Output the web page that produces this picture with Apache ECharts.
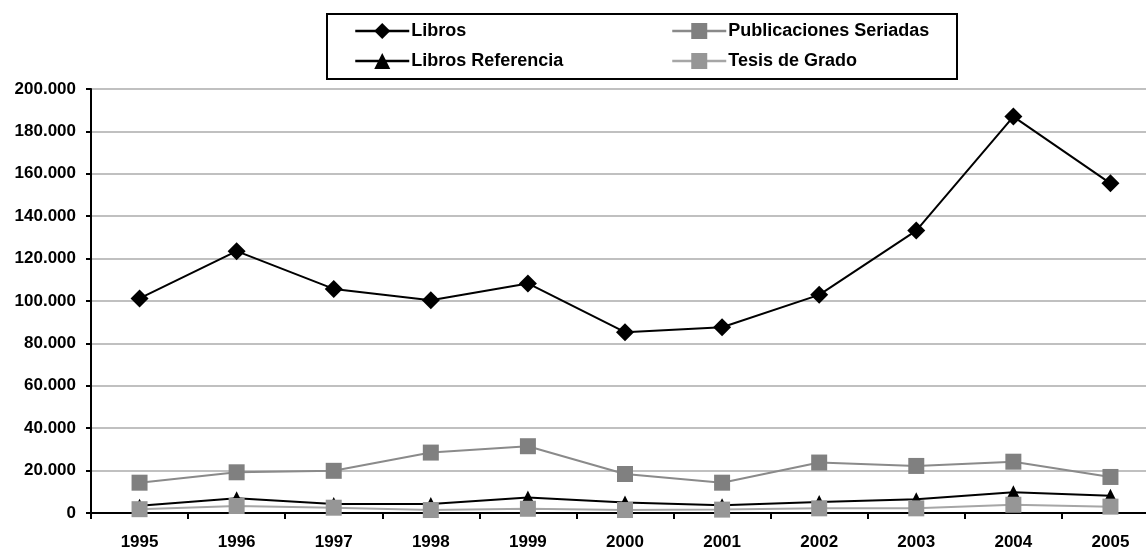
<!DOCTYPE html>
<html>
<head>
<meta charset="utf-8">
<script src="https://cdn.jsdelivr.net/npm/echarts@6/dist/echarts.min.js"></script>
<style>
  html, body { margin: 0; padding: 0; background: #fff; }
  #chart { width: 1146px; height: 548px; }
</style>
</head>
<body>
<div id="chart"></div>
<script>
// datos
var years = ['1995', '1996', '1997', '1998', '1999', '2000', '2001', '2002', '2003', '2004', '2005'];
var libros = [101200, 123500, 105700, 100400, 108300, 85300, 87600, 102900, 133200, 187000, 155500];
var publicaciones = [14300, 19200, 19900, 28500, 31500, 18400, 14300, 23800, 22200, 24200, 17000];
var librosReferencia = [3400, 7000, 4200, 4200, 7300, 4900, 3700, 5200, 6500, 9800, 8100];
var tesis = [1800, 3300, 2500, 1400, 2000, 1400, 1600, 2200, 2200, 3900, 3000];
var yTicks = [0, 200000, 20000]; // min, max, intervalo

var chart = echarts.init(document.getElementById('chart'));
var font = 'Liberation Sans, Arial, sans-serif';

function miles(v) {
  return String(v).replace(/\B(?=(\d{3})+(?!\d))/g, '.');
}

var legendText = { fontSize: 18, fontWeight: 'bold', color: '#000', fontFamily: font, padding: [0, 0, 0, -3] };

chart.setOption({
  animation: false,
  textStyle: { fontFamily: font },
  graphic: [{
    type: 'rect',
    shape: { x: 327, y: 14, width: 630, height: 65 },
    style: { fill: 'none', stroke: '#000', lineWidth: 2 },
    z: 0
  }],
  legend: [
    {
      orient: 'vertical',
      left: 349, top: 17,
      itemWidth: 54, itemHeight: 20, itemGap: 12,
      lineStyle: { width: 2.5 },
      textStyle: legendText,
      data: ['Libros', 'Libros Referencia']
    },
    {
      orient: 'vertical',
      left: 666, top: 17,
      itemWidth: 54, itemHeight: 20, itemGap: 12,
      lineStyle: { width: 2.5 },
      textStyle: legendText,
      data: ['Publicaciones Seriadas', 'Tesis de Grado']
    }
  ],
  grid: { left: 91, right: -13, top: 89, bottom: 35, outerBoundsMode: 'none' },
  xAxis: {
    type: 'category',
    data: years,
    boundaryGap: true,
    axisLine: { lineStyle: { color: '#000', width: 2 } },
    axisTick: { show: true, length: 6, inside: false, lineStyle: { color: '#000', width: 2 } },
    axisLabel: { color: '#000', fontSize: 17, fontWeight: 'bold', margin: 21, fontFamily: font }
  },
  yAxis: {
    type: 'value',
    min: yTicks[0], max: yTicks[1], interval: yTicks[2],
    axisLine: { show: true, lineStyle: { color: '#000', width: 2 } },
    axisTick: { show: true, length: 5, lineStyle: { color: '#000', width: 2 } },
    axisLabel: { color: '#000', fontSize: 17, fontWeight: 'bold', margin: 15, fontFamily: font, formatter: miles },
    splitLine: { lineStyle: { color: '#c0c0c0', width: 2 } }
  },
  series: [
    {
      name: 'Libros', type: 'line', data: libros,
      symbol: 'diamond', symbolSize: 18,
      lineStyle: { color: '#000', width: 2 },
      itemStyle: { color: '#000' }
    },
    {
      name: 'Publicaciones Seriadas', type: 'line', data: publicaciones,
      symbol: 'rect', symbolSize: 16,
      lineStyle: { color: '#8a8a8a', width: 2 },
      itemStyle: { color: '#808080' }
    },
    {
      name: 'Libros Referencia', type: 'line', data: librosReferencia,
      symbol: 'triangle', symbolSize: 14,
      lineStyle: { color: '#000', width: 2 },
      itemStyle: { color: '#000' }
    },
    {
      name: 'Tesis de Grado', type: 'line', data: tesis,
      symbol: 'rect', symbolSize: 16,
      lineStyle: { color: '#a6a6a6', width: 2 },
      itemStyle: { color: '#969696' }
    }
  ]
});
</script>
</body>
</html>
